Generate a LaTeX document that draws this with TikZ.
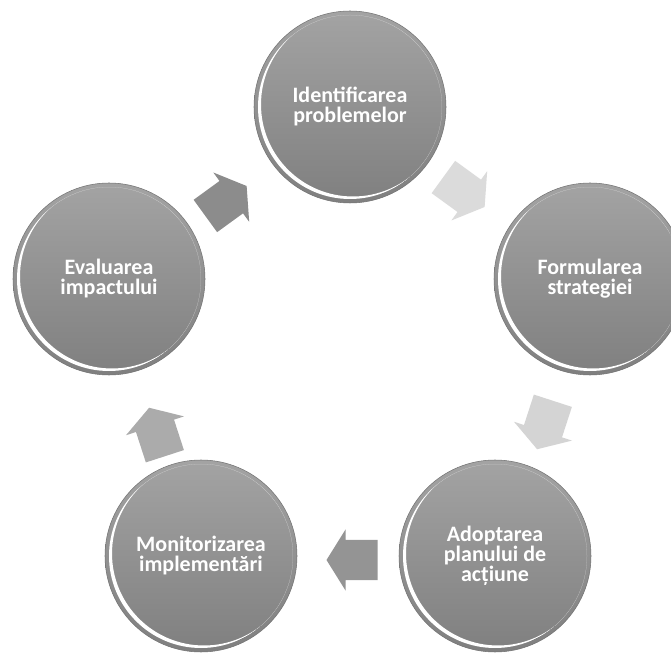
\documentclass[tikz,border=0pt]{standalone}
\usepackage{fontspec}
\setmainfont{Carlito}

\tikzset{
  etapa/.style={circle, minimum size=144pt, inner sep=0pt, draw=black!55, line width=0.4pt,
    top color=black!36, bottom color=black!50, text=white, align=center,
    font=\bfseries\fontsize{16.5}{15}\selectfont}
}

% block arrow: name, position, direction, fill colour
\newcommand\sageata[4]{%
  \coordinate (#1) at (#2);
  \fill[#4, shift={(#1)}, rotate=#3] (-25.5,-20) -- (6.5,-20) -- (6.5,-30.5) -- (25.5,0)
      -- (6.5,30.5) -- (6.5,20) -- (-25.5,20) -- cycle;}

\begin{document}
\begin{tikzpicture}[x=0.75pt, y=0.75pt]
        \useasboundingbox (0,0) rectangle (671,657);

        % ==================== the five stages ====================
        \node[etapa] (ident) at (350,550) {Identificarea\\problemelor};
        \node[etapa] (formul) at (590,378) {Formularea\\strategiei};
        \node[etapa] (adopt) at (495,101) {Adoptarea\\planului de\\acțiune};
        \node[etapa] (monit) at (201,101) {Monitorizarea\\implementări};
        \node[etapa] (eval) at (109,378) {Evaluarea\\impactului};

        % white glossy crescent on the lower left of every circle
        \foreach \n in {ident,formul,adopt,monit,eval} {
            \begin{scope}
                \clip (\n.center) circle (69pt);
                \fill[white, even odd rule] (\n.center) circle (69pt) ([shift={(3,2.5)}]\n.center) circle (69pt);
            \end{scope}
        }

        % ==================== block arrows between the stages ====================
        \sageata{s1}{464,465}{-36}{black!14}   % ident -> formul
        \sageata{s2}{545,232}{-108}{black!17}  % formul -> adopt
        \sageata{s3}{352,97}{180}{black!42}    % adopt -> monit
        \sageata{s4}{157,225}{108}{black!33}   % monit -> eval
        \sageata{s5}{226,456}{36}{black!45}    % eval -> ident

    \end{tikzpicture}
\end{document}
